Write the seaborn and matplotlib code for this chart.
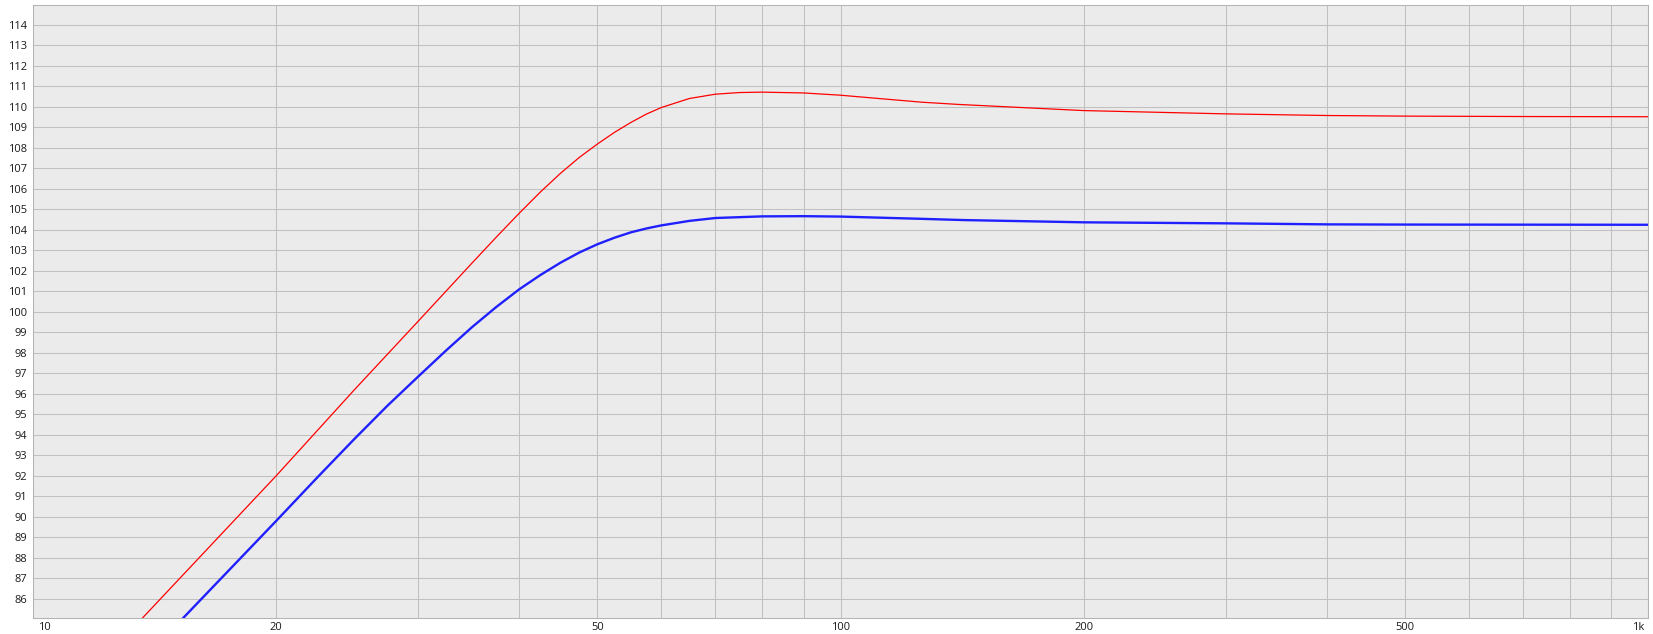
import numpy as np
import pandas as pd
import matplotlib
matplotlib.use('Agg')
import matplotlib.pyplot as plt
import matplotlib.transforms as mtransforms
import seaborn as sns

# values (frequency in Hz, level in dB)
freq_red = [13.5, 20, 25, 30, 35, 37.5, 40, 42.5, 45, 47.5, 50, 52.5, 55, 57.5, 60, 65,
            70, 75, 80, 90, 100, 126, 140, 200, 300, 400, 500, 700, 1000]
level_red = [84.85, 92.0, 96.2, 99.55, 102.4, 103.66, 104.81, 105.85, 106.76, 107.54,
             108.19, 108.76, 109.24, 109.65, 109.97, 110.41, 110.62, 110.7, 110.72, 110.68,
             110.57, 110.23, 110.12, 109.82, 109.66, 109.58, 109.55, 109.53, 109.52]

freq_blue = [15.2, 20, 22.5, 25, 27.5, 30, 32.5, 35, 37.5, 40, 42.5, 45, 47.5, 50, 52.5,
             55, 57.5, 60, 65, 70, 80, 90, 100, 126, 142, 200, 300, 400, 500, 1000]
level_blue = [84.9, 89.8, 91.93, 93.8, 95.44, 96.85, 98.13, 99.27, 100.25, 101.1, 101.8,
              102.4, 102.9, 103.3, 103.62, 103.88, 104.07, 104.22, 104.44, 104.58, 104.66,
              104.67, 104.65, 104.54, 104.48, 104.37, 104.32, 104.27, 104.26, 104.25]

x_ticks = [10, 20, 30, 40, 50, 60, 70, 80, 90, 100, 200, 300, 400, 500, 600, 700, 800, 900, 1000]
x_labels = ['10', '20', '', '', '50', '', '', '', '', '100', '200', '', '', '500', '', '', '', '', '1k']
y_ticks = list(range(86, 115))

sns.set_style('whitegrid', {'axes.facecolor': '#ebebeb', 'grid.color': '#c0c0c0',
                            'axes.edgecolor': '#b4b4b4'})
plt.rcParams['font.family'] = ['Open Sans', 'DejaVu Sans']

W, H = 1653, 634
fig = plt.figure(figsize=(W / 100, H / 100), dpi=100)
fig.patch.set_facecolor('white')
ax = fig.add_axes([33 / W, 16 / H, (1648 - 33) / W, (618 - 5) / H])

df_red = pd.DataFrame({'freq': freq_red, 'level': level_red})
df_blue = pd.DataFrame({'freq': freq_blue, 'level': level_blue})
sns.lineplot(data=df_red, x='freq', y='level', color='#ff0000', linewidth=0.9, ax=ax,
             sort=False, estimator=None)
sns.lineplot(data=df_blue, x='freq', y='level', color='#2020ff', linewidth=1.7, ax=ax,
             sort=False, estimator=None)

ax.set_xscale('log')
ax.set_xlim(10, 1000)
ax.set_ylim(85.07, 114.97)
ax.set_xticks(x_ticks)
ax.set_xticklabels(x_labels)
ax.xaxis.set_minor_locator(matplotlib.ticker.NullLocator())
ax.set_yticks(y_ticks)
ax.set_yticklabels([str(v) for v in y_ticks])
ax.grid(True, which='major', color='#c0c0c0', linewidth=0.75)
ax.tick_params(axis='both', length=0, labelsize=8, labelcolor='#1a1a1a')
ax.tick_params(axis='x', pad=3)
ax.tick_params(axis='y', pad=4)
ax.set_xlabel('')
ax.set_ylabel('')
for sp in ax.spines.values():
    sp.set_linewidth(0.75)
    sp.set_color('#b4b4b4')

# first and last x labels sit inside the plot edges
labels = ax.get_xticklabels()
labels[0].set_transform(labels[0].get_transform() +
                        mtransforms.ScaledTranslation(11 / 100, 0, fig.dpi_scale_trans))
labels[-1].set_transform(labels[-1].get_transform() +
                         mtransforms.ScaledTranslation(-10 / 100, 0, fig.dpi_scale_trans))

fig.savefig('out.png', dpi=100)
